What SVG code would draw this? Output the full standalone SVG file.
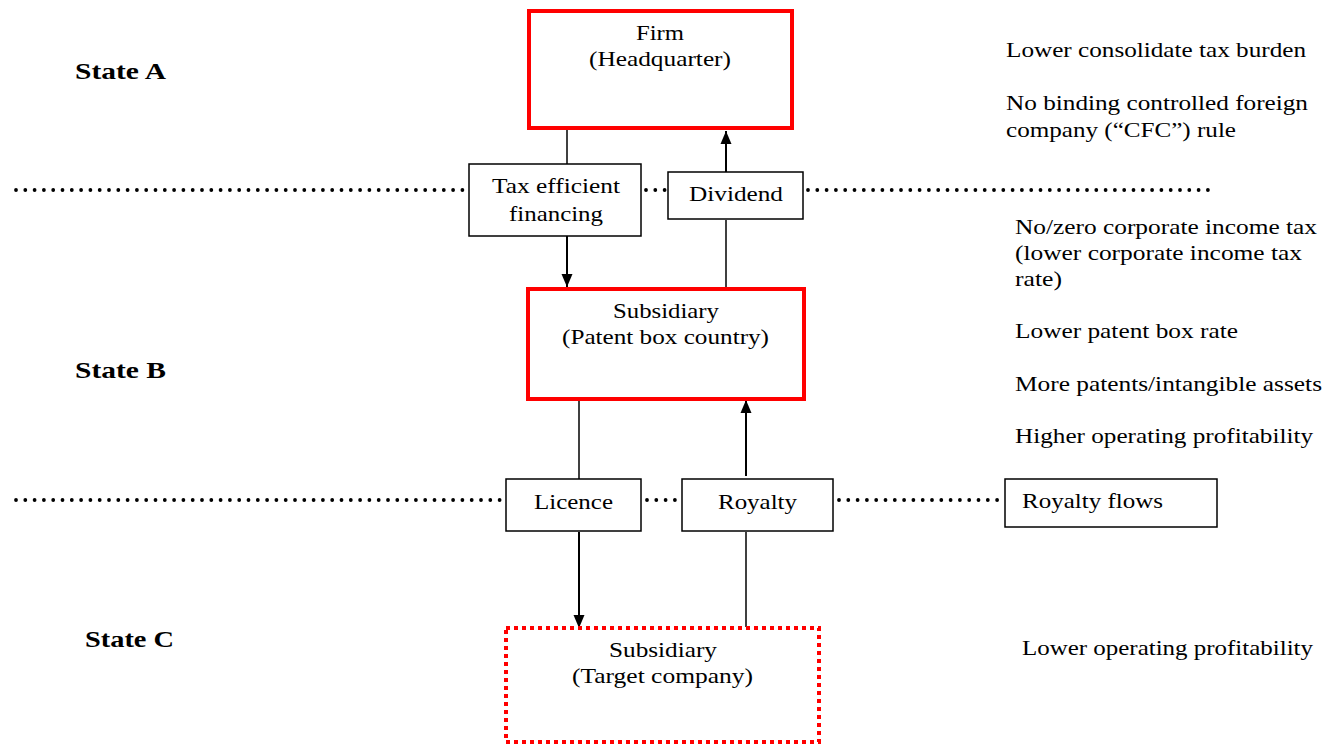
<svg xmlns="http://www.w3.org/2000/svg" width="1333" height="746" viewBox="0 0 1333 746">
<defs>
<style>
text{font-family:"Liberation Serif","Times New Roman",serif;font-size:21px;fill:#000}
.st{font-weight:bold;font-size:24px}
.c{text-anchor:middle}
.red{fill:none;stroke:#ff0000;stroke-width:4}
.reddot{fill:none;stroke:#ff0000;stroke-width:4;stroke-dasharray:4 4}
.box{fill:#fff;stroke:#000;stroke-width:1.5}
.ln{stroke:#000;stroke-width:1.5;fill:none}
.ar{stroke:#000;stroke-width:2;fill:none}
.dot{stroke:#000;stroke-width:3.8;stroke-linecap:round;stroke-dasharray:0 9.3;fill:none}
</style>
<marker id="ah" markerWidth="14" markerHeight="14" viewBox="0 0 14 14" refX="13" refY="7" orient="auto" markerUnits="userSpaceOnUse">
<path d="M0,1.5 L13,7 L0,12.5 Z" fill="#000"/>
</marker>
</defs>
<g id="dividers">
<path class="dot" d="M16,190 H466 M646,190 H666 M808,190 H1210"/>
<path class="dot" d="M16,500 H503 M647,500 H680 M839,500 H1002"/>
</g>
<g id="labels">
<text class="st" x="75" y="79" textLength="91" lengthAdjust="spacingAndGlyphs">State A</text>
<text class="st" x="75" y="378" textLength="91" lengthAdjust="spacingAndGlyphs">State B</text>
<text class="st" x="85" y="647" textLength="89" lengthAdjust="spacingAndGlyphs">State C</text>
<text x="1006" y="57" textLength="300" lengthAdjust="spacingAndGlyphs">Lower consolidate tax burden</text>
<text x="1006" y="110" textLength="302" lengthAdjust="spacingAndGlyphs">No binding controlled foreign</text>
<text x="1006" y="137" textLength="230" lengthAdjust="spacingAndGlyphs">company (“CFC”) rule</text>
<text x="1015" y="234" textLength="302" lengthAdjust="spacingAndGlyphs">No/zero corporate income tax</text>
<text x="1015" y="260" textLength="287" lengthAdjust="spacingAndGlyphs">(lower corporate income tax</text>
<text x="1015" y="286" textLength="47" lengthAdjust="spacingAndGlyphs">rate)</text>
<text x="1015" y="338" textLength="223" lengthAdjust="spacingAndGlyphs">Lower patent box rate</text>
<text x="1015" y="391" textLength="307" lengthAdjust="spacingAndGlyphs">More patents/intangible assets</text>
<text x="1015" y="443" textLength="298" lengthAdjust="spacingAndGlyphs">Higher operating profitability</text>
<text x="1022" y="655" textLength="291" lengthAdjust="spacingAndGlyphs">Lower operating profitability</text>
</g>
<g id="connectors">
<line class="ln" x1="567" y1="130" x2="567" y2="164"/>
<line class="ar" x1="726" y1="172" x2="726" y2="131" marker-end="url(#ah)"/>
<line class="ar" x1="567" y1="236" x2="567" y2="287" marker-end="url(#ah)"/>
<line class="ln" x1="726" y1="220" x2="726" y2="287"/>
<line class="ln" x1="579" y1="401" x2="579" y2="479"/>
<line class="ar" x1="746" y1="476" x2="746" y2="400" marker-end="url(#ah)"/>
<line class="ar" x1="579" y1="532" x2="579" y2="628" marker-end="url(#ah)"/>
<line class="ln" x1="746" y1="532" x2="746" y2="627"/>
</g>
<g id="firm">
<rect class="red" x="529" y="11" width="263" height="117"/>
<text class="c" x="660" y="40" textLength="48" lengthAdjust="spacingAndGlyphs">Firm</text>
<text class="c" x="660" y="66" textLength="142" lengthAdjust="spacingAndGlyphs">(Headquarter)</text>
</g>
<g id="tax-financing">
<rect class="box" x="469" y="164" width="172" height="72"/>
<text class="c" x="556" y="193" textLength="128" lengthAdjust="spacingAndGlyphs">Tax efficient</text>
<text class="c" x="556" y="221" textLength="94" lengthAdjust="spacingAndGlyphs">financing</text>
</g>
<g id="dividend">
<rect class="box" x="668" y="172" width="135" height="47"/>
<text class="c" x="736" y="201" textLength="94" lengthAdjust="spacingAndGlyphs">Dividend</text>
</g>
<g id="subsidiary-patent">
<rect class="red" x="528" y="289" width="276" height="110"/>
<text class="c" x="666" y="318" textLength="106" lengthAdjust="spacingAndGlyphs">Subsidiary</text>
<text class="c" x="665.5" y="344" textLength="207" lengthAdjust="spacingAndGlyphs">(Patent box country)</text>
</g>
<g id="licence">
<rect class="box" x="506" y="479" width="135" height="52"/>
<text class="c" x="573.5" y="509" textLength="79" lengthAdjust="spacingAndGlyphs">Licence</text>
</g>
<g id="royalty">
<rect class="box" x="682" y="479" width="151" height="52"/>
<text class="c" x="757.5" y="509" textLength="79" lengthAdjust="spacingAndGlyphs">Royalty</text>
</g>
<g id="royalty-flows">
<rect class="box" x="1005" y="479" width="212" height="48"/>
<text x="1022" y="508" textLength="141" lengthAdjust="spacingAndGlyphs">Royalty flows</text>
</g>
<g id="subsidiary-target">
<rect class="reddot" x="506" y="628" width="313" height="114"/>
<text class="c" x="663" y="657" textLength="108" lengthAdjust="spacingAndGlyphs">Subsidiary</text>
<text class="c" x="662.5" y="683" textLength="181" lengthAdjust="spacingAndGlyphs">(Target company)</text>
</g>
</svg>
